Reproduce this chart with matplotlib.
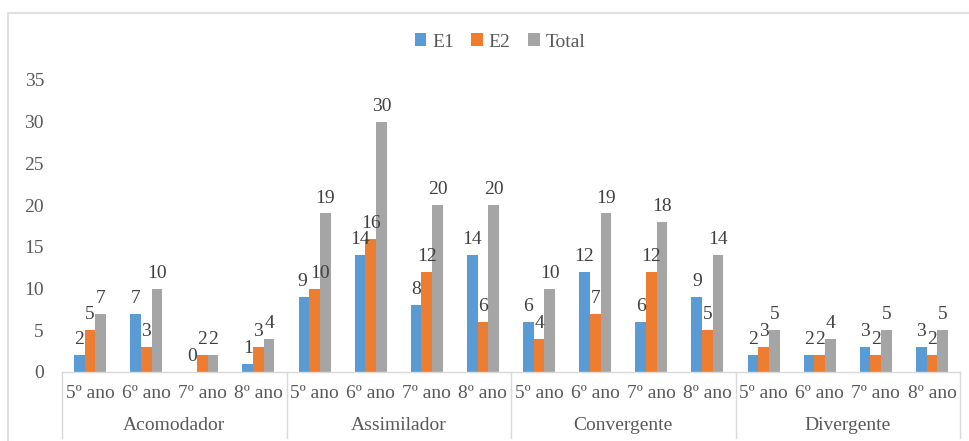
import matplotlib
matplotlib.use("Agg")
import matplotlib.pyplot as plt
import matplotlib.transforms as mtransforms
from matplotlib.lines import Line2D
from matplotlib.patches import Rectangle
import numpy as np

plt.rcParams['font.family'] = ['Liberation Serif', 'DejaVu Serif']

styles = ["Acomodador", "Assimilador", "Convergente", "Divergente"]
years = ["5º ano", "6º ano", "7º ano", "8º ano"]
e1 = [2, 7, 0, 1, 9, 14, 8, 14, 6, 12, 6, 9, 2, 2, 3, 3]
e2 = [5, 3, 2, 3, 10, 16, 12, 6, 4, 7, 12, 5, 3, 2, 2, 2]
total = [7, 10, 2, 4, 19, 30, 20, 20, 10, 19, 18, 14, 5, 4, 5, 5]
series_names = ["E1", "E2", "Total"]
colors = ["#5B9BD5", "#ED7D31", "#A5A5A5"]

W, H = 969, 441
fig = plt.figure(figsize=(W / 100, H / 100), dpi=100)
ax = fig.add_axes([62 / W, (H - 372) / H, (960 - 62) / W, (372 - 80) / H])

n = len(e1)
x = np.arange(n)
bw = 0.19
text_col = "#595959"
line_col = "#D9D9D9"

# small horizontal nudges (points) for labels that would collide
nudge = {(0, 4): -1.5, (1, 4): 4.0}

bars = []
for i, (vals, name, c) in enumerate(zip([e1, e2, total], series_names, colors)):
    b = ax.bar(x + (i - 1) * bw, vals, width=bw, color=c, label=name, zorder=2)
    bars.append(b)
    for k, (xi, v) in enumerate(zip(x + (i - 1) * bw, vals)):
        dx = nudge.get((i, k), 0)
        ax.annotate(str(v), (xi, v), xytext=(dx, 5), textcoords="offset points",
                    ha="center", va="bottom", fontsize=14, color="#404040")

ax.set_xlim(-0.5, n - 0.5)
ax.set_ylim(0, 35)
ax.set_yticks(range(0, 36, 5))
ax.tick_params(axis="y", length=0, pad=13, labelsize=14, labelcolor=text_col)
ax.set_xticks([])
for s in ["top", "right", "left"]:
    ax.spines[s].set_visible(False)
ax.spines["bottom"].set_color(line_col)
ax.spines["bottom"].set_linewidth(1)

# two-level category axis
trans = mtransforms.blended_transform_factory(ax.transData, ax.transAxes)
axh = 372 - 80
for i in range(n):
    ax.text(i, -21 / axh, years[i % 4], transform=trans, ha="center", va="center",
            fontsize=14, color=text_col)
for g, name in enumerate(styles):
    ax.text(g * 4 + 1.5, -53 / axh, name, transform=trans, ha="center", va="center",
            fontsize=14, color=text_col)
for g in range(len(styles) + 1):
    xb = g * 4 - 0.5
    ax.add_line(Line2D([xb, xb], [0, -66 / axh], transform=trans, color=line_col,
                       lw=1, clip_on=False))

# chart frame
fig.patches.append(Rectangle((8 / W, -0.1), 1.1, 1.1 - 13 / H, transform=fig.transFigure,
                             fill=False, edgecolor=line_col, lw=1.2))

fig.legend(handles=bars, labels=series_names, loc="center", ncol=3,
           bbox_to_anchor=(500 / W, 1 - 42 / H), frameon=False, fontsize=14,
           handlelength=0.6, handleheight=0.6, handletextpad=0.3, columnspacing=0.9,
           labelcolor=text_col)

fig.savefig("out.png", dpi=100)
